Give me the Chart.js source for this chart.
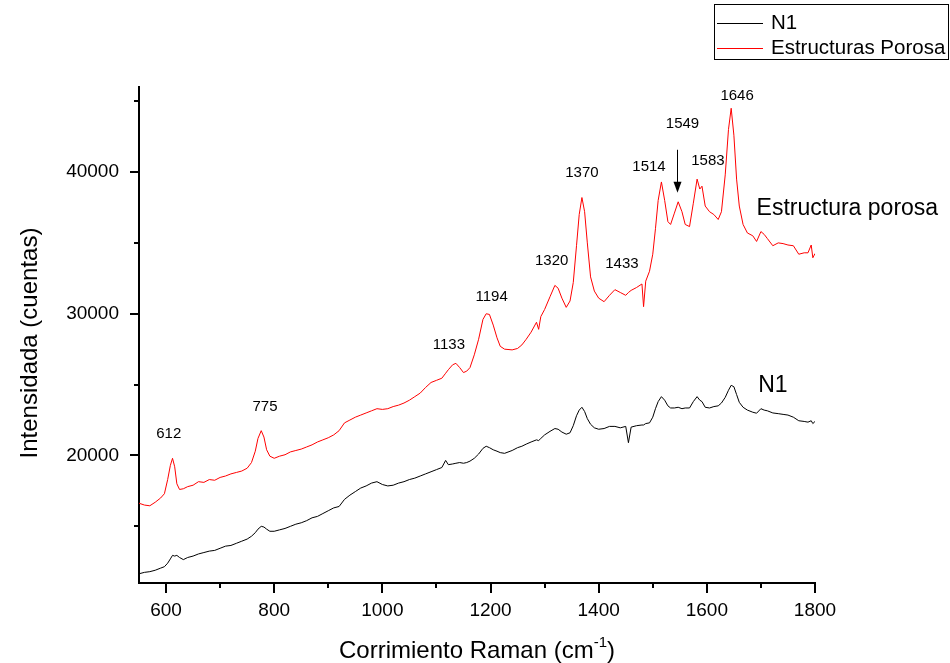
<!DOCTYPE html>
<html lang="es">
<head>
<meta charset="UTF-8" />
<title>Espectro Raman</title>
<script src="https://cdn.jsdelivr.net/npm/chart.js@4.4.1/dist/chart.umd.min.js"></script>
<style>
  html, body { margin: 0; padding: 0; background: #fff; }
  #wrap { width: 950px; height: 663px; }
</style>
</head>
<body>
<div id="wrap"><canvas id="raman" width="950" height="663"></canvas></div>
<script>
// Raman shift (cm-1), shared by both spectra
const wavenumber = [
  550, 560, 570, 580, 590, 597, 603, 608, 612, 616, 620, 625, 632, 640, 650, 660, 670, 680, 690, 700,
  710, 720, 730, 740, 750, 758, 765, 770, 776, 781, 786, 792, 800, 810, 820, 830, 840, 850, 860, 870,
  880, 890, 900, 910, 920, 930, 940, 950, 960, 970, 980, 990, 1000, 1010, 1020, 1030, 1040, 1050, 1060, 1070,
  1080, 1090, 1100, 1110, 1117, 1122, 1130, 1136, 1143, 1150, 1156, 1162, 1170, 1178, 1186, 1192, 1198, 1205, 1212, 1218,
  1226, 1240, 1250, 1258, 1266, 1275, 1285, 1289, 1293, 1300, 1310, 1319, 1325, 1332, 1340, 1347, 1353, 1359, 1364, 1369,
  1374, 1379, 1385, 1392, 1400, 1410, 1420, 1430, 1440, 1450, 1455, 1460, 1470, 1480, 1483, 1487, 1494, 1500, 1505, 1510,
  1516, 1522, 1528, 1533, 1540, 1547, 1554, 1560, 1568, 1575, 1582, 1587, 1591, 1597, 1605, 1613, 1621, 1627, 1634, 1640,
  1645, 1650, 1655, 1660, 1667, 1675, 1685, 1692, 1700, 1706, 1712, 1722, 1732, 1741, 1750, 1760, 1770, 1780, 1787, 1793,
  1796, 1800
];

// N1 intensity (counts)
const n1 = [
  11650, 11750, 11800, 11900, 12050, 12150, 12400, 12700, 12950, 12900, 12950, 12800, 12650, 12800, 12900, 13050, 13150, 13250, 13300, 13450,
  13600, 13650, 13800, 13950, 14100, 14300, 14550, 14800, 15000, 14950, 14800, 14650, 14650, 14750, 14850, 15000, 15150, 15250, 15400, 15600,
  15700, 15900, 16100, 16300, 16400, 16900, 17200, 17450, 17700, 17850, 18050, 18150, 17950, 17850, 17900, 18050, 18150, 18300, 18400, 18550,
  18700, 18850, 19000, 19150, 19650, 19350, 19400, 19450, 19500, 19450, 19500, 19600, 19800, 20100, 20500, 20650, 20550, 20400, 20300, 20200,
  20150, 20350, 20550, 20650, 20800, 20950, 21100, 21050, 21200, 21450, 21700, 21900, 21850, 21650, 21500, 21600, 22100, 22800, 23200, 23400,
  23100, 22600, 22200, 21950, 21850, 21900, 22050, 22050, 21950, 22050, 20900, 22000, 22100, 22150, 22150, 22250, 22300, 22700, 23300, 23800,
  24150, 23900, 23500, 23350, 23350, 23400, 23300, 23350, 23350, 23800, 24150, 23900, 23800, 23400, 23350, 23450, 23500, 23700, 24100, 24600,
  24950, 24850, 24300, 23750, 23400, 23200, 23050, 22980, 23300, 23200, 23150, 23000, 22950, 22900, 22850, 22700, 22450, 22400, 22350, 22450,
  22250, 22400
];

// Estructuras Porosa intensity (counts)
const porosa = [
  16630, 16500, 16450, 16700, 17000, 17300, 18300, 19300, 19800, 19200, 18000, 17600, 17650, 17800, 17900, 18150, 18100, 18300, 18250, 18450,
  18550, 18700, 18800, 18900, 19100, 19500, 20300, 21200, 21750, 21300, 20400, 19950, 19800, 19950, 20050, 20250, 20350, 20450, 20600, 20750,
  20950, 21100, 21250, 21450, 21750, 22300, 22500, 22700, 22850, 23000, 23150, 23300, 23250, 23300, 23450, 23550, 23700, 23900, 24150, 24400,
  24800, 25150, 25300, 25450, 25800, 26050, 26400, 26500, 26200, 25850, 25950, 26200, 27100, 28200, 29600, 30000, 29950, 29200, 28300, 27700,
  27500, 27450, 27550, 27800, 28200, 28700, 29400, 28900, 29800, 30300, 31200, 32000, 31800, 31100, 30450, 30900, 32200, 34800, 37000, 38200,
  37200, 35000, 32600, 31600, 31100, 30850, 31300, 31700, 31500, 31300, 31500, 31650, 31850, 32100, 30500, 32300, 33000, 34200, 36000, 38000,
  39300, 38000, 36500, 36300, 37100, 37900, 37200, 36300, 36150, 37800, 39500, 38800, 39000, 37600, 37200, 37000, 36650, 37200, 39800, 43000,
  44500, 42600, 39500, 37600, 36300, 35700, 35500, 35100, 35800, 35600, 35300, 34800, 35000, 34950, 34850, 34800, 34200, 34300, 34300, 34850,
  33950, 34250
];

const xTicks = [600, 800, 1000, 1200, 1400, 1600, 1800];
const xMinorTicks = [700, 900, 1100, 1300, 1500, 1700];
const yTicks = [20000, 30000, 40000];
const yMinorTicks = [15000, 25000, 35000, 45000];

const peakNames = ['612', '775', '1133', '1194', '1320', '1370', '1433', '1514', '1549', '1583', '1646'];

// where each peak label sits, in data units
const peakSpots = [
  [605, 21520], [783, 23430], [1123, 27800], [1202, 31190], [1313, 33730], [1369, 39950],
  [1443, 33520], [1493, 40370], [1555, 43400], [1602, 40790], [1656, 45380]
];

Chart.defaults.font.family = "'Liberation Sans', Arial, sans-serif";
Chart.defaults.color = '#000';

const FONT = "'Liberation Sans', Arial, sans-serif";

const decorations = {
  id: 'decorations',
  afterDraw(chart) {
    const ctx = chart.ctx;
    const xs = chart.scales.x;
    const ys = chart.scales.y;
    const area = chart.chartArea;
    ctx.save();
    ctx.strokeStyle = '#000';
    ctx.fillStyle = '#000';

    // tick marks (outward)
    ctx.lineWidth = 2;
    ctx.beginPath();
    xTicks.forEach(v => {
      const px = Math.round(xs.getPixelForValue(v));
      ctx.moveTo(px, area.bottom); ctx.lineTo(px, area.bottom + 10);
    });
    xMinorTicks.forEach(v => {
      const px = Math.round(xs.getPixelForValue(v));
      ctx.moveTo(px, area.bottom); ctx.lineTo(px, area.bottom + 5);
    });
    yTicks.forEach(v => {
      const py = Math.round(ys.getPixelForValue(v));
      ctx.moveTo(area.left, py); ctx.lineTo(area.left - 9, py);
    });
    yMinorTicks.forEach(v => {
      const py = Math.round(ys.getPixelForValue(v));
      ctx.moveTo(area.left, py); ctx.lineTo(area.left - 5, py);
    });
    ctx.stroke();

    // peak labels
    ctx.font = '15px ' + FONT;
    ctx.textAlign = 'center';
    ctx.textBaseline = 'middle';
    peakNames.forEach((t, i) => {
      ctx.fillText(t, xs.getPixelForValue(peakSpots[i][0]), ys.getPixelForValue(peakSpots[i][1]));
    });

    // arrow to the 1549 shoulder
    const ax = Math.round(xs.getPixelForValue(1545)) + 0.5;
    const aTop = ys.getPixelForValue(41570);
    const aTip = ys.getPixelForValue(38540);
    ctx.lineWidth = 1;
    ctx.beginPath();
    ctx.moveTo(ax, aTop); ctx.lineTo(ax, aTip - 8);
    ctx.stroke();
    ctx.beginPath();
    ctx.moveTo(ax - 4, aTip - 11); ctx.lineTo(ax + 4, aTip - 11); ctx.lineTo(ax, aTip);
    ctx.closePath();
    ctx.fill();

    // curve names
    ctx.font = '23px ' + FONT;
    ctx.textAlign = 'left';
    ctx.fillText('Estructura porosa', xs.getPixelForValue(1692), ys.getPixelForValue(37400));
    ctx.fillText('N1', xs.getPixelForValue(1695), ys.getPixelForValue(24940));

    // axis titles
    ctx.font = '24px ' + FONT;
    ctx.save();
    ctx.translate(30, 343);
    ctx.rotate(-Math.PI / 2);
    ctx.textAlign = 'center';
    ctx.fillText('Intensidada (cuentas)', 0, 0);
    ctx.restore();

    const cx = (area.left + area.right) / 2;
    const base = 658;
    const p1 = 'Corrimiento Raman (cm';
    const p3 = ')';
    ctx.font = '24px ' + FONT;
    const w1 = ctx.measureText(p1).width;
    const w3 = ctx.measureText(p3).width;
    ctx.font = '15px ' + FONT;
    const w2 = ctx.measureText('-1').width;
    let x0 = cx - (w1 + w2 + w3) / 2;
    ctx.textBaseline = 'alphabetic';
    ctx.font = '24px ' + FONT;
    ctx.fillText(p1, x0, base);
    ctx.font = '15px ' + FONT;
    ctx.fillText('-1', x0 + w1, base - 11);
    ctx.font = '24px ' + FONT;
    ctx.fillText(p3, x0 + w1 + w2, base);

    // legend box
    ctx.lineWidth = 1;
    ctx.strokeRect(714.5, 4.5, 234, 55);
    ctx.beginPath();
    ctx.strokeStyle = '#000';
    ctx.moveTo(717, 23.5); ctx.lineTo(763, 23.5);
    ctx.stroke();
    ctx.beginPath();
    ctx.strokeStyle = '#ff0000';
    ctx.moveTo(717, 48.5); ctx.lineTo(763, 48.5);
    ctx.stroke();
    ctx.font = '20.5px ' + FONT;
    ctx.textBaseline = 'middle';
    ctx.fillText('N1', 771, 23);
    ctx.fillText('Estructuras Porosa', 771, 48);

    ctx.restore();
  }
};

const ctx = document.getElementById('raman').getContext('2d');
new Chart(ctx, {
  type: 'line',
  data: {
    labels: wavenumber,
    datasets: [
      {
        label: 'N1',
        data: wavenumber.map((w, i) => ({ x: w, y: n1[i] })),
        borderColor: '#000000',
        borderWidth: 1,
        pointRadius: 0,
        tension: 0,
        fill: false
      },
      {
        label: 'Estructuras Porosa',
        data: wavenumber.map((w, i) => ({ x: w, y: porosa[i] })),
        borderColor: '#ff0000',
        borderWidth: 1,
        pointRadius: 0,
        tension: 0,
        fill: false
      }
    ]
  },
  options: {
    responsive: false,
    animation: false,
    layout: { padding: { top: 87, right: 135, left: 0, bottom: 0 } },
    plugins: {
      legend: { display: false },
      tooltip: { enabled: false }
    },
    scales: {
      x: {
        type: 'linear',
        min: 550,
        max: 1800,
        grid: { display: false },
        border: { display: true, color: '#000', width: 2 },
        ticks: {
          padding: 8,
          font: { size: 19 },
          color: '#000',
          maxRotation: 0,
          callback: v => String(v)
        },
        afterBuildTicks: s => { s.ticks = xTicks.map(v => ({ value: v })); },
        afterFit: s => { s.height = 80; }
      },
      y: {
        type: 'linear',
        min: 11000,
        max: 46000,
        grid: { display: false },
        border: { display: true, color: '#000', width: 2 },
        ticks: {
          padding: 12,
          font: { size: 19 },
          color: '#000',
          callback: v => String(v)
        },
        afterBuildTicks: s => { s.ticks = yTicks.map(v => ({ value: v })); },
        afterFit: s => { s.width = 139; }
      }
    }
  },
  plugins: [decorations]
});
</script>
</body>
</html>
